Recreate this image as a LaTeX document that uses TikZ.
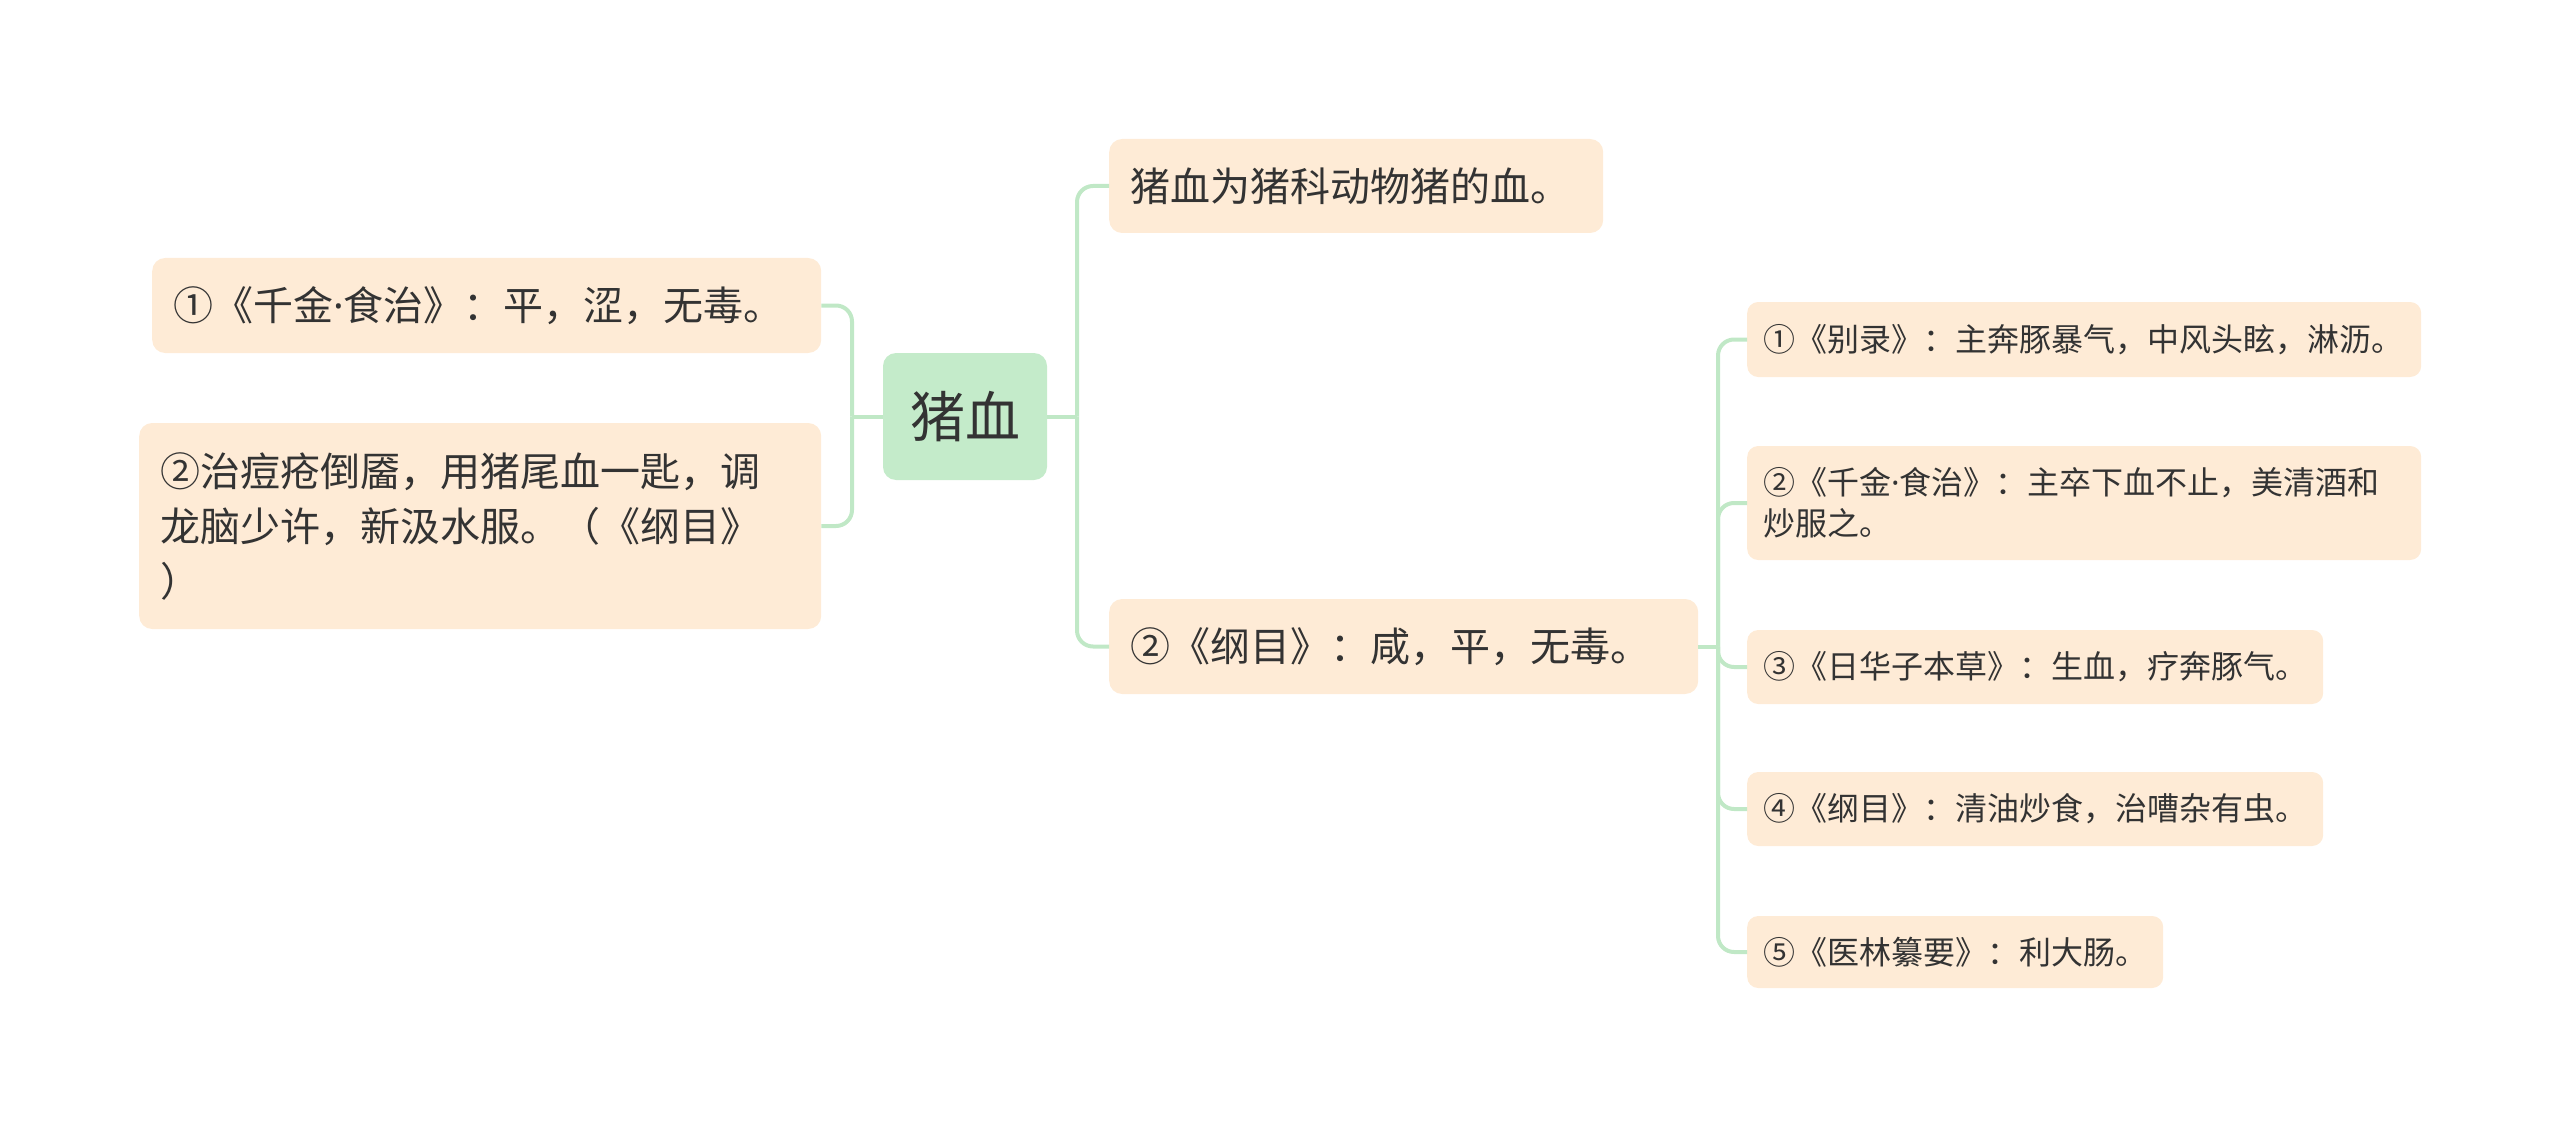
\documentclass[tikz,border=0pt]{standalone}
\usepackage{fontspec}
\setmainfont{Noto Sans CJK SC}
\newfontfamily\latinfont{Noto Sans}
\usepackage{tikz}
\definecolor{peach}{RGB}{254,235,214}
\definecolor{rootgreen}{RGB}{196,235,202}
\definecolor{linkgreen}{RGB}{192,232,198}
\definecolor{ink}{RGB}{51,51,51}
\newcommand{\mdot}{{\latinfont ·}}

\begin{document}
\begin{tikzpicture}[x=1pt,y=-1pt,
  root/.style={rectangle,rounded corners=13pt,fill=rootgreen,text=ink,inner sep=0pt,minimum width=164pt,minimum height=127pt,font=\fontsize{55}{66}\selectfont},
  topic/.style={rectangle,rounded corners=13pt,fill=peach,text=ink,inner xsep=21pt,inner ysep=0pt,align=left,anchor=west,font=\fontsize{40}{55}\selectfont},
  leaf/.style={rectangle,rounded corners=11pt,fill=peach,text=ink,inner xsep=16pt,inner ysep=0pt,align=left,anchor=west,font=\fontsize{32}{41}\selectfont},
  link/.style={draw=linkgreen,line width=4pt,rounded corners=16pt}]
\useasboundingbox (0,0) rectangle (2560,1126);
\node[root] (root) at (965,416.5) {猪血};
\node[topic,text width=452pt,minimum height=94pt] (t1) at (1109,186) {猪血为猪科动物猪的血。};
\node[topic,text width=547pt,minimum height=95pt] (t2) at (1109,646.5) {②《纲目》：咸，平，无毒。};
\node[topic,text width=627pt,minimum height=95pt] (l1) at (152,305.5) {①《千金\mdot 食治》：平，涩，无毒。};
\node[topic,text width=640pt,minimum height=206pt] (l2) at (139,526) {②治痘疮倒靥，用猪尾血一匙，调\\龙脑少许，新汲水服。（《纲目》\\）};
\node[leaf,text width=642pt,minimum height=75pt] (r1) at (1747,339.5) {①《别录》：主奔豚暴气，中风头眩，淋沥。};
\node[leaf,text width=642pt,minimum height=114pt] (r2) at (1747,503) {②《千金\mdot 食治》：主卒下血不止，美清酒和\\炒服之。};
\node[leaf,text width=544pt,minimum height=74pt] (r3) at (1747,667) {③《日华子本草》：生血，疗奔豚气。};
\node[leaf,text width=544pt,minimum height=74pt] (r4) at (1747,809) {④《纲目》：清油炒食，治嘈杂有虫。};
\node[leaf,text width=384pt,minimum height=72pt] (r5) at (1747,952) {⑤《医林纂要》：利大肠。};
\coordinate (jr) at (1077,416.5);
\coordinate (jl) at (852,416.5);
\coordinate (jt) at (1718,646.5);
\draw[link] (root.east) -- (jr);
\draw[link] (jr) |- (t1.west);
\draw[link] (jr) |- (t2.west);
\draw[link] (root.west) -- (jl);
\draw[link] (jl) |- (l1.east);
\draw[link] (jl) |- (l2.east);
\draw[link] (t2.east) -- (jt);
\foreach \n in {r1,r2,r3,r4,r5}
  \draw[link] (jt) |- (\n.west);
\end{tikzpicture}
\end{document}
